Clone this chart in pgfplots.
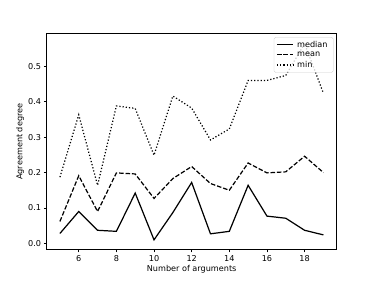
\documentclass[border=0pt]{standalone}
\usepackage{pgfplots}
\pgfplotsset{compat=1.18}
\usepackage{fontspec}
\setmainfont{DejaVu Sans}
\begin{document}
\begin{tikzpicture}
\path (-57.6pt,-38.0pt) rectangle (403.2pt,307.6pt);
\begin{axis}[
  at={(0,0)}, anchor=south west,
  scale only axis, width=357.1pt, height=266.1pt,
  xmin=4.3, xmax=19.7, ymin=-0.0177, ymax=0.592,
  xtick={6,8,...,18}, ytick={0,0.1,...,0.5},
  yticklabel style={/pgf/number format/.cd,fixed,fixed zerofill,precision=1},
  /pgf/number format/assume math mode=true,
  tick align=outside, tick pos=left,
  major tick length=3.5pt,
  every tick/.style={line width=0.8pt, black},
  axis line style={line width=0.8pt},
  ticklabel style={font=\fontsize{10}{12}\selectfont},
  label style={font=\fontsize{10}{12}\selectfont},
  xlabel={Number of arguments}, ylabel={Agreement degree},
  xlabel style={yshift=2pt},
  ylabel style={yshift=-2pt},
  legend style={font=\fontsize{10}{12}\selectfont, draw=black!20, fill=white, fill opacity=0.8, text opacity=1, draw opacity=1, rounded corners=2pt, at={(0.989,0.984)}, anchor=north east, row sep=2.5pt, inner xsep=3pt, inner ysep=3.5pt, nodes={inner xsep=4pt, inner ysep=1pt}},
  legend cell align=left,
  legend image code/.code={\draw[#1] (0pt,0pt) -- (20pt,0pt);},
]
\addplot[black, line width=1.5pt] coordinates {
(5,0.028) (6,0.090) (7,0.037) (8,0.034) (9,0.142) (10,0.010) (11,0.087) (12,0.172) (13,0.027) (14,0.034) (15,0.164) (16,0.077) (17,0.071) (18,0.037) (19,0.024)};
\addlegendentry{median}
\addplot[black, line width=1.5pt, dash pattern=on 5.55pt off 2.4pt] coordinates {
(5,0.062) (6,0.191) (7,0.090) (8,0.199) (9,0.196) (10,0.127) (11,0.183) (12,0.217) (13,0.169) (14,0.150) (15,0.227) (16,0.199) (17,0.202) (18,0.246) (19,0.200)};
\addlegendentry{mean}
\addplot[black, line width=1.5pt, dash pattern=on 1.5pt off 2.475pt] coordinates {
(5,0.187) (6,0.363) (7,0.164) (8,0.388) (9,0.381) (10,0.249) (11,0.416) (12,0.382) (13,0.292) (14,0.323) (15,0.460) (16,0.460) (17,0.474) (18,0.564) (19,0.424)};
\addlegendentry{min}
\end{axis}
\end{tikzpicture}
\end{document}
